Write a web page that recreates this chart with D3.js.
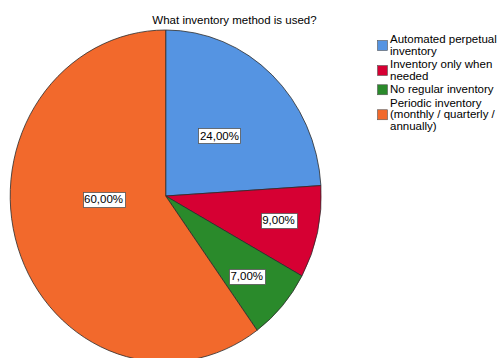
<!DOCTYPE html>
<html>
<head>
<meta charset="utf-8">
<script src="https://cdn.jsdelivr.net/npm/d3@7/dist/d3.min.js"></script>
<style>
  html, body { margin: 0; padding: 0; background: #fff; }
  svg { display: block; font-family: "Liberation Sans", Arial, sans-serif; }
</style>
</head>
<body>
<svg id="chart" width="498" height="358"></svg>
<script>
// Survey answers and their shares (percent)
const title = "What inventory method is used?";
const categories = [
  "Automated perpetual inventory",
  "Inventory only when needed",
  "No regular inventory",
  "Periodic inventory (monthly / quarterly / annually)"
];
const legendLines = [
  ["Automated perpetual", "inventory"],
  ["Inventory only when", "needed"],
  ["No regular inventory"],
  ["Periodic inventory", "(monthly / quarterly /", "annually)"]
];
const shares = [24, 9, 7, 60];
const colors = ["#5594e2", "#d60033", "#2a8a2b", "#f2692c"];

// Label placement inside each slice: angle (degrees, clockwise from top) and radius fraction
const labelSpots = [
  { angle: 43.7, k: 0.50 },
  { angle: 101.5, k: 0.74 },
  { angle: 132.8, k: 0.71 },
  { angle: 267.0, k: 0.40 }
];

const svg = d3.select("#chart");
const cx = 165.7, cy = 196, rx = 155.5, ry = 166;
const fs = 11.5;

svg.append("text")
  .attr("x", 234.5).attr("y", 24)
  .attr("text-anchor", "middle")
  .attr("font-size", fs)
  .attr("fill", "#000")
  .text(title);

const data = categories.map((c, i) => ({ name: c, value: shares[i], color: colors[i], spot: labelSpots[i] }));

const pie = d3.pie().value(d => d.value).sort(null);
const arcs = pie(data);
const arc = d3.arc().innerRadius(0).outerRadius(rx);

// The pie is drawn as a circle and stretched vertically into an ellipse
const g = svg.append("g")
  .attr("transform", `translate(${cx},${cy}) scale(1,${ry / rx})`);

g.selectAll("path.slice")
  .data(arcs)
  .join("path")
  .attr("class", "slice")
  .attr("d", arc)
  .attr("fill", d => d.data.color)
  .attr("stroke", "#2b2b2b")
  .attr("stroke-width", 0.8)
  .attr("vector-effect", "non-scaling-stroke");

// Percentage labels in white boxes
const fmt = v => v.toFixed(2).replace(".", ",") + "%";
const lab = svg.append("g");
arcs.forEach(d => {
  const a = d.data.spot.angle * Math.PI / 180;
  const r = d.data.spot.k * rx;
  const [px, py] = d3.arc().innerRadius(r).outerRadius(r).centroid({ startAngle: a, endAngle: a });
  const x = cx + px, y = cy + py * (ry / rx);
  const t = lab.append("text")
    .attr("x", x).attr("y", y + 4)
    .attr("text-anchor", "middle")
    .attr("font-size", fs)
    .attr("fill", "#000")
    .text(fmt(d.data.value));
  const bb = t.node().getBBox();
  lab.insert("rect", "text")
    .attr("x", Math.round(bb.x - 1.5) + 0.5)
    .attr("y", Math.round(y - 7.5) + 0.5)
    .attr("width", Math.round(bb.width + 3))
    .attr("height", 15)
    .attr("fill", "#fff")
    .attr("stroke", "#555")
    .attr("stroke-width", 0.8);
});

// Legend
const legend = svg.append("g");
const lineH = 11.5;
let yTop = 35;
legendLines.forEach((lines, i) => {
  const blockH = lines.length * lineH;
  const mid = yTop + blockH / 2 - 1;
  legend.append("rect")
    .attr("x", 377.5).attr("y", mid - 5)
    .attr("width", 10).attr("height", 10)
    .attr("fill", colors[i])
    .attr("stroke", "#555")
    .attr("stroke-width", 0.6);
  lines.forEach((ln, j) => {
    legend.append("text")
      .attr("x", 390).attr("y", yTop + 8.3 + j * lineH)
      .attr("font-size", fs)
      .attr("fill", "#000")
      .text(ln);
  });
  yTop += blockH + 2;
});
</script>
</body>
</html>
